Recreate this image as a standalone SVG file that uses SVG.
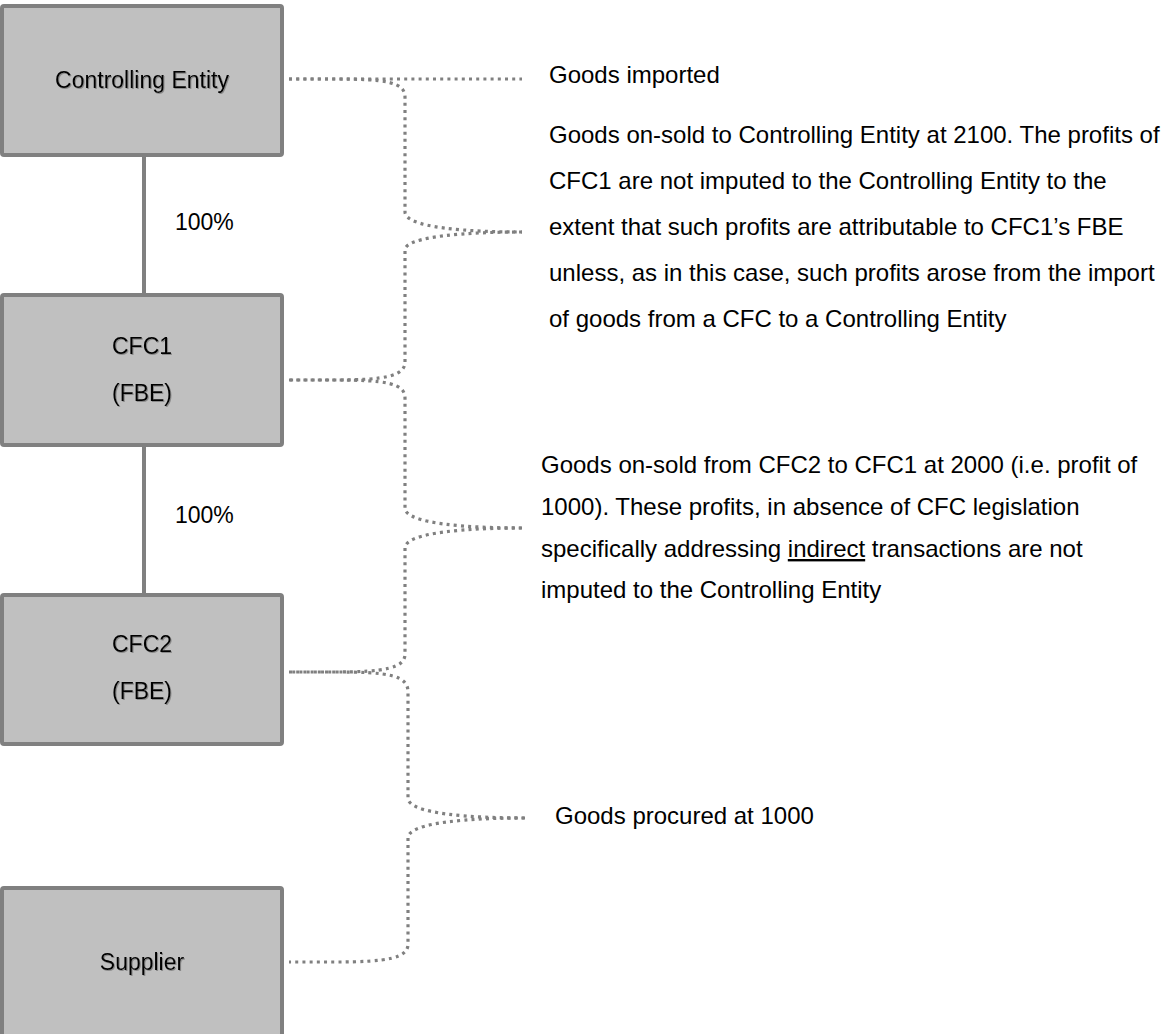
<svg xmlns="http://www.w3.org/2000/svg" width="1163" height="1034" viewBox="0 0 1163 1034">
  <style>
    .box { fill: #c0c0c0; stroke: #808080; stroke-width: 4; }
    .lbl { font-family: "Liberation Sans", Arial, sans-serif; font-size: 23px; fill: #000; text-anchor: middle; }
    .pct { font-family: "Liberation Sans", Arial, sans-serif; font-size: 23px; fill: #000; }
    .txt { font-family: "Liberation Sans", Arial, sans-serif; font-size: 24px; fill: #000; }
    .own { stroke: #808080; stroke-width: 4; fill: none; }
    .dot { stroke: #808080; stroke-width: 3.2; fill: none; stroke-dasharray: 3 4.2; }
  </style>
  <defs>
    <filter id="sh" x="-10%" y="-20%" width="120%" height="140%">
      <feDropShadow dx="1" dy="1" stdDeviation="0.6" flood-color="#666" flood-opacity="0.6"/>
    </filter>
  </defs>
  <rect width="1163" height="1034" fill="#fff"/>

  <g id="connectors">
    <line class="own" x1="144" y1="157" x2="144" y2="293"/>
    <line class="own" x1="144" y1="447" x2="144" y2="593"/>
    <line class="dot" x1="289" y1="79" x2="522" y2="79"/>
    <path class="dot" d="M289,79 L335,79 C385,79 405,82 405,97 L405,212 C405,228 470,232 522,232"/>
    <path class="dot" d="M522,232 C470,232 405,236 405,250 L405,362 C405,376 385,380 335,380 L289,380"/>
    <path class="dot" d="M289,380 L335,380 C385,380 405,383 405,398 L405,508 C405,524 470,528 522,528"/>
    <path class="dot" d="M522,528 C470,528 405,532 405,548 L405,654 C405,668 385,672 335,672 L289,672"/>
    <path class="dot" d="M289,672 L335,672 C388,672 408,675 408,692 L408,798 C408,814 472,818 525,818"/>
    <path class="dot" d="M525,818 C472,818 408,822 408,838 L408,944 C408,958 388,962 335,962 L289,962"/>
  </g>

  <g id="controlling-entity">
    <rect class="box" x="2" y="6" width="280" height="149" rx="2"/>
    <text class="lbl" x="142" y="88" filter="url(#sh)">Controlling Entity</text>
  </g>
  <g id="cfc1">
    <rect class="box" x="2" y="295" width="280" height="150" rx="2"/>
    <text class="lbl" x="142" y="354" filter="url(#sh)">CFC1</text>
    <text class="lbl" x="142" y="401" filter="url(#sh)">(FBE)</text>
  </g>
  <g id="cfc2">
    <rect class="box" x="2" y="595" width="280" height="149" rx="2"/>
    <text class="lbl" x="142" y="652" filter="url(#sh)">CFC2</text>
    <text class="lbl" x="142" y="699" filter="url(#sh)">(FBE)</text>
  </g>
  <g id="supplier">
    <rect class="box" x="2" y="888" width="280" height="150" rx="2"/>
    <text class="lbl" x="142" y="970" filter="url(#sh)">Supplier</text>
  </g>

  <g id="ownership-labels">
    <text class="pct" x="175" y="230">100%</text>
    <text class="pct" x="175" y="523">100%</text>
  </g>

  <g id="annotations">
    <text class="txt" x="549" y="83">Goods imported</text>
    <text class="txt" x="549" y="143">Goods on-sold to Controlling Entity at 2100. The profits of</text>
    <text class="txt" x="549" y="189">CFC1 are not imputed to the Controlling Entity to the</text>
    <text class="txt" x="549" y="235">extent that such profits are attributable to CFC1’s FBE</text>
    <text class="txt" x="549" y="281">unless, as in this case, such profits arose from the import</text>
    <text class="txt" x="549" y="327">of goods from a CFC to a Controlling Entity</text>
    <text class="txt" x="541" y="473">Goods on-sold from CFC2 to CFC1 at 2000 (i.e. profit of</text>
    <text class="txt" x="541" y="515">1000). These profits, in absence of CFC legislation</text>
    <text class="txt" x="541" y="557">specifically addressing <tspan text-decoration="underline">indirect</tspan> transactions are not</text>
    <text class="txt" x="541" y="598">imputed to the Controlling Entity</text>
    <text class="txt" x="555" y="824">Goods procured at 1000</text>
  </g>
</svg>
